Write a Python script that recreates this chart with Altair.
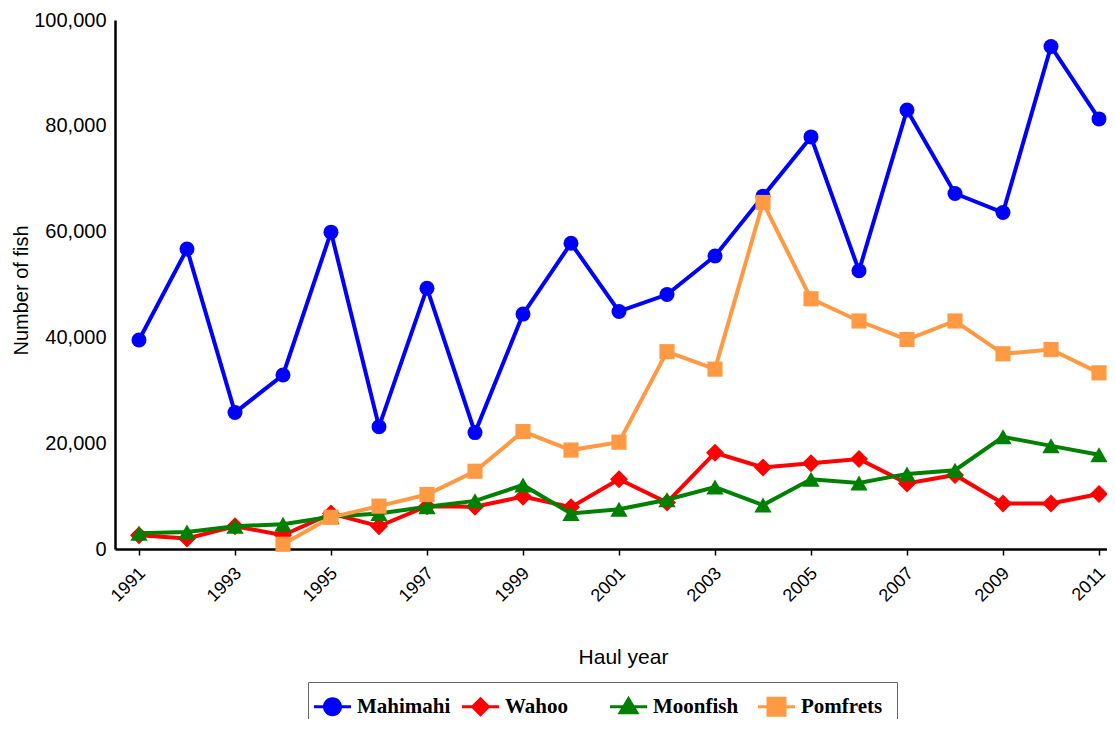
import altair as alt
import pandas as pd

years = list(range(1991, 2012))
series_names = ["Mahimahi", "Wahoo", "Moonfish", "Pomfrets"]
series_colors = ["#0000FF", "#FF0000", "#008000", "#FF9944"]

mahimahi = [39500, 56700, 25800, 32900, 59900, 23100, 49300, 22000, 44400, 57800,
            44900, 48100, 55400, 66700, 77900, 52600, 83000, 67200, 63600, 95000, 81300]
wahoo = [2600, 2000, 4300, 2600, 6700, 4300, 8100, 8000, 9900, 7900,
         13200, 8800, 18200, 15400, 16200, 17000, 12400, 14000, 8600, 8600, 10400]
moonfish = [3000, 3200, 4300, 4700, 6100, 6700, 8000, 9100, 12100, 6700,
            7500, 9300, 11700, 8300, 13200, 12500, 14200, 14900, 21200, 19500, 17800]
pomfrets = [None, None, None, 900, 6000, 8100, 10300, 14700, 22200, 18700,
            20200, 37300, 34000, 65500, 47300, 43100, 39600, 43100, 36900, 37700, 33300]

x_ticks = list(range(1991, 2012, 2))
y_ticks = [0, 20000, 40000, 60000, 80000, 100000]

rows = []
for name, vals in zip(series_names, [mahimahi, wahoo, moonfish, pomfrets]):
    for yr, v in zip(years, vals):
        if v is not None:
            rows.append({"series": name, "year": yr, "fish": v})
df = pd.DataFrame(rows)

plot_shapes = ["circle", "diamond", "triangle-up", "square"]
plot_sizes = [225, 324, 300, 230]

# legend symbols: marker with a line through it (custom paths)
bar = "M-1.85,-0.15H1.85V0.15H-1.85Z "
legend_paths = [
    bar + "M0.95,0A0.95,0.95 0 1 1 -0.95,0A0.95,0.95 0 1 1 0.95,0Z",
    bar + "M0,-1L1,0L0,1L-1,0Z",
    bar + "M0,-1.1L1.1,0.75L-1.1,0.75Z",
    bar + "M-1,-1H1V1H-1Z",
]

FONT = "Liberation Sans"

x_enc = alt.X(
    "year:Q",
    scale=alt.Scale(domain=[1990.5, 2011.1667], nice=False, zero=False),
    axis=alt.Axis(
        values=x_ticks, format="d", title="Haul year",
        labelAngle=315, labelAlign="right", labelBaseline="top", labelPadding=9,
        labelOffset=-3,
        labelFontSize=18, labelFont=FONT, labelColor="black",
        tickSize=6, tickWidth=1.5, tickColor="black",
        domainColor="black", domainWidth=2.5,
        titleFont=FONT, titleFontSize=21, titleFontWeight="normal", titleColor="black",
        titleX=508, titleY=114, titleBaseline="alphabetic", titleAlign="center",
        grid=False,
    ),
)
y_enc = alt.Y(
    "fish:Q",
    scale=alt.Scale(domain=[0, 100000], nice=False),
    axis=alt.Axis(
        values=y_ticks, format=",d", title="Number of fish",
        labelFontSize=20, labelFont=FONT, labelColor="black", labelPadding=9,
        ticks=False, domainColor="black", domainWidth=2.5,
        titleFont=FONT, titleFontSize=20, titleFontWeight="normal", titleColor="black",
        titleX=-88, titleY=270, titleBaseline="alphabetic", titleAlign="center",
        grid=False,
    ),
)

base = alt.Chart(df)
layers = []
for name, col, shp, sz in zip(series_names, series_colors, plot_shapes, plot_sizes):
    sub = base.transform_filter(alt.datum.series == name)
    layers.append(sub.mark_line(color=col, strokeWidth=4).encode(x=x_enc, y=y_enc))
    layers.append(
        sub.mark_point(shape=shp, size=sz, filled=True, color=col, opacity=1, strokeWidth=0)
        .encode(x=x_enc, y=y_enc)
    )

leg = alt.Legend(
    title=None, orient="none", legendX=193, legendY=662, direction="horizontal",
    gridAlign="all", columnPadding=11, labelOffset=14, padding=14,
    symbolSize=400, symbolStrokeWidth=0, symbolOpacity=1,
    labelFont="Liberation Serif", labelFontWeight="bold", labelFontSize=21,
    labelColor="black", strokeColor="#666666", fillColor="white",
)
legend_layer = (
    base.transform_filter("false")
    .mark_point(filled=True, opacity=1)
    .encode(
        x=x_enc, y=y_enc,
        color=alt.Color("series:N", scale=alt.Scale(domain=series_names, range=series_colors), legend=leg),
        shape=alt.Shape("series:N", scale=alt.Scale(domain=series_names, range=legend_paths), legend=leg),
    )
)
layers.append(legend_layer)

chart = (
    alt.layer(*layers)
    .properties(
        width=992, height=529,
        padding={"left": 107, "top": 12, "right": 0, "bottom": 170},
        autosize=alt.AutoSizeParams(type="none"),
        background="white",
    )
    .configure_view(stroke=None)
)

chart.save("out.html", embed_options={"renderer": "svg", "actions": False})
